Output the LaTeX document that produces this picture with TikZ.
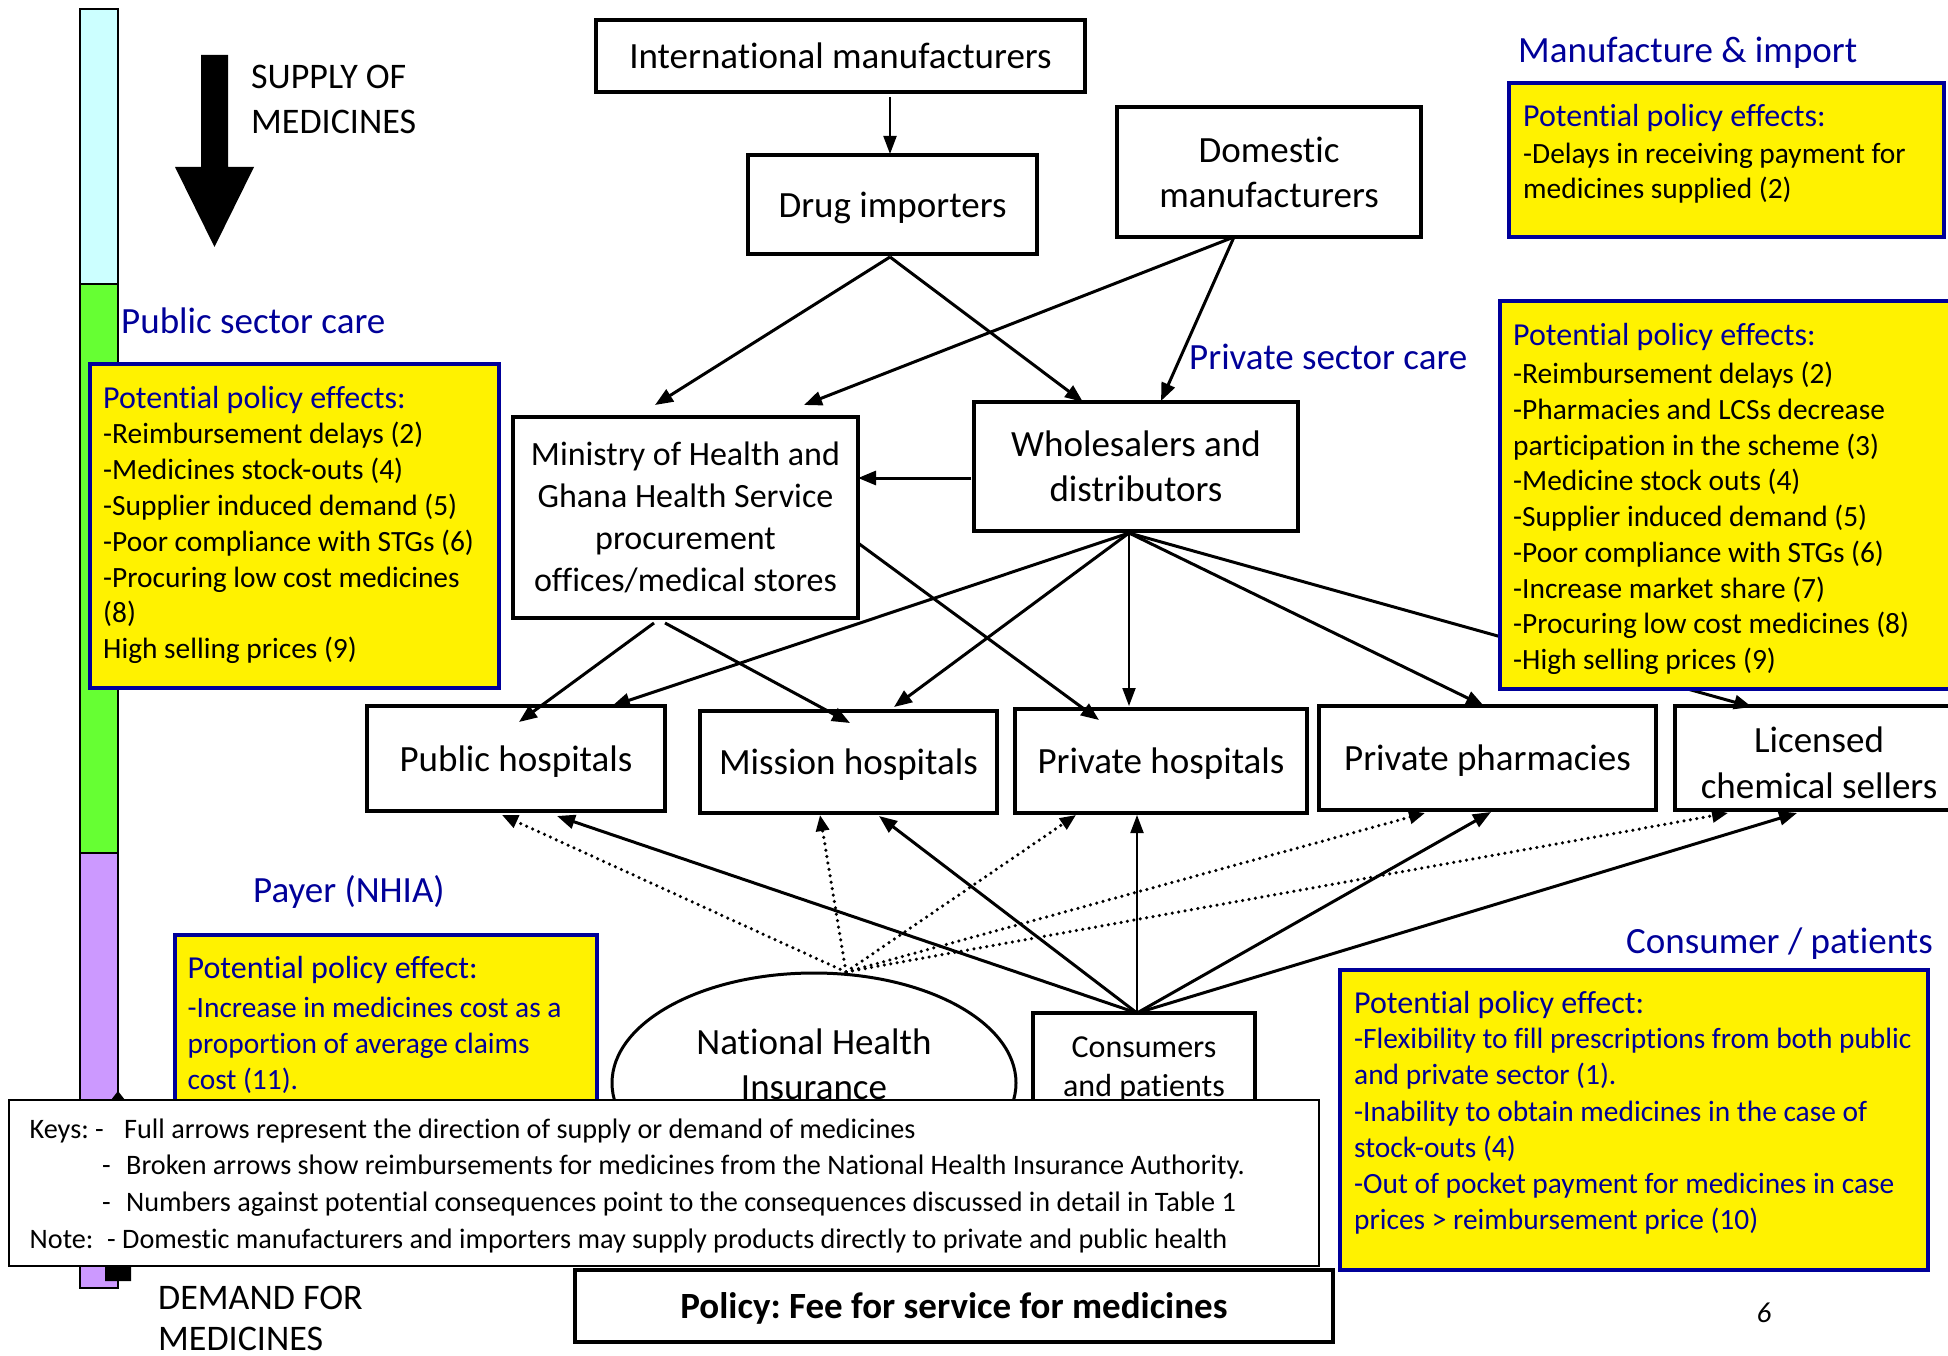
\documentclass[tikz,border=0pt]{standalone}
\usepackage{fontspec}
\setmainfont{Carlito}[Ligatures=NoCommon]
\usetikzlibrary{arrows.meta,calc,shapes.geometric}
\definecolor{navy}{RGB}{0,0,153}
\definecolor{cyanbar}{RGB}{204,255,255}
\definecolor{greenbar}{RGB}{102,255,51}
\definecolor{purplebar}{RGB}{204,153,255}
\newcommand\fsz[2]{\fontsize{#1}{#2}\selectfont}
\frenchspacing
\begin{document}
\frenchspacing
\begin{tikzpicture}[x=1pt,y=-1pt,
  box/.style={draw, line width=3.5pt, fill=white, inner sep=0pt, outer sep=0pt, align=center, font=\fsz{37}{45}},
  onebox/.style={box, text depth=0pt},
  ybox/.style={draw=navy, fill=yellow, line width=4pt, inner sep=0pt, outer sep=0pt},
  ytext/.style={anchor=base west, inner sep=0pt, font=\fsz{29.4}{35}},
  yhead/.style={anchor=base west, inner sep=0pt, text=navy, font=\fsz{32}{38}},
  head/.style={anchor=base west, inner sep=0pt, text=navy, font=\fsz{37}{44}},
  bigtext/.style={anchor=base west, inner sep=0pt, font=\fsz{36}{44}},
  keytext/.style={anchor=base west, inner sep=0pt, font=\fsz{28.2}{34}},
  arr/.style={line width=3pt, -{Triangle[length=18pt,width=14pt]}},
  thinarr/.style={line width=2pt, -{Triangle[length=18pt,width=13pt]}},
  dotarr/.style={line width=3.5pt, line cap=round, dash pattern=on 0pt off 6.5pt, -{Triangle[length=16pt,width=13pt]}},
  barseg/.style={draw=black, line width=1.5pt}
]
\useasboundingbox (0,0) rectangle (1948,1356);

% ---- left colour bar ----
\filldraw[barseg, fill=cyanbar] (80,9) rectangle (118,284);
\filldraw[barseg, fill=greenbar] (80,284) rectangle (118,853);
\filldraw[barseg, fill=purplebar] (80,853) rectangle (118,1288);

% supply arrow (down)
\fill (201,55) -- (228,55) -- (228,167) -- (254,167) -- (214.5,247) -- (175,167) -- (201,167) -- cycle;
\node[bigtext] (supply1) at (251,89) {SUPPLY OF};
\node[bigtext] (supply2) at (251,134) {MEDICINES};

% demand arrow (up), mostly hidden by the key box
\fill (105,1281) -- (131,1281) -- (131,1140) -- (156,1140) -- (118,1091) -- (80,1140) -- (105,1140) -- cycle;
\node[bigtext] (demand1) at (158,1309) {DEMAND FOR};
\node[bigtext] (demand2) at (158,1350) {MEDICINES};

% ---- headings ----
\node[head] (hpub) at (121,333) {Public sector care};
\node[head] (hman) at (1518,63) {Manufacture \& import};
\node[head] (hpriv) at (1189,369) {Private sector care};
\node[head] (hpay) at (253,902) {Payer (NHIA)};
\node[head] (hcons) at (1626,953) {Consumer / patients};

% ---- main boxes ----
\node[onebox, minimum width=489pt, minimum height=72pt] (intl) at (840.5,56) {International manufacturers};
\node[onebox, minimum width=289pt, minimum height=99pt] (drug) at (892.5,204.5) {Drug importers};
\node[box, minimum width=304pt, minimum height=130pt] (dom) at (1269,172) {Domestic\\manufacturers};
\node[box, minimum width=345pt, minimum height=201pt, font=\fsz{34}{42}] (moh) at (685.5,517.5) {Ministry of Health and\\Ghana Health Service\\procurement\\offices/medical stores};
\node[box, minimum width=324pt, minimum height=129pt] (whole) at (1136,466.5) {Wholesalers and\\distributors};
\node[onebox, minimum width=298pt, minimum height=105pt] (pubh) at (516,758.5) {Public hospitals};
\node[onebox, minimum width=297pt, minimum height=102pt] (mish) at (848.5,762) {Mission hospitals};
\node[onebox, minimum width=292pt, minimum height=104pt] (prih) at (1161,761) {Private hospitals};
\node[onebox, minimum width=337pt, minimum height=104pt] (phar) at (1487.5,758) {Private pharmacies};
\node[box, minimum width=288pt, minimum height=104pt, font=\fsz{37}{46}] (lcs) at (1819,758) {\rule{0pt}{36pt}Licensed\\chemical sellers};
\node[draw, ellipse, line width=3pt, fill=white, minimum width=404pt, minimum height=220pt, inner sep=0pt, outer sep=0pt] (nhi) at (814,1083) {};
\node[inner sep=0pt, align=center, font=\fsz{37}{45}] (nhitext) at (814,1064) {National Health\\Insurance};
\node[box, minimum width=222pt, minimum height=112pt, font=\fsz{32}{39}] (cons) at (1144,1069) {Consumers\\and patients};

% ---- connectors: supply side ----
\draw[thinarr] ($(intl.south)+(49.5,5)$) -- ($(drug.north)+(-2.5,-1)$);
\coordinate (dapex) at ($(drug.south)+(-2.5,3)$);
\coordinate (domapex) at ($(dom.south)+(-35,0)$);
\coordinate (wapex) at ($(whole.south)+(-7,2)$);
\draw[arr] (dapex) -- ($(moh.north)+(-30.5,-12)$);
\draw[arr] (dapex) -- ($(whole.north)+(-53,0)$);
\draw[arr] (domapex) -- ($(moh.north)+(118.5,-12)$);
\draw[arr] (domapex) -- ($(whole.north)+(25,-1)$);
\draw[arr] ($(whole.west)+(-3,11.5)$) -- ($(moh.east)+(0,-39.5)$);
\draw[arr] ($(moh.south)+(-31.5,5)$) -- ($(pubh.north)+(3,16)$);
\draw[arr] ($(moh.south)+(-20.5,5)$) -- ($(mish.north)+(1.5,12)$);
\draw[arr] ($(moh.east)+(0,25.5)$) -- ($(prih.north)+(-62,11)$);
\draw[arr] (wapex) -- ($(pubh.north)+(96,0)$);
\draw[arr] (wapex) -- ($(mish.north)+(45.5,-4)$);
\draw[thinarr] (wapex) -- ($(prih.north)+(-32,-3)$);
\draw[arr] (wapex) -- ($(phar.north)+(-3.5,0)$);
\draw[arr] (wapex) -- ($(lcs.north)+(-67,1)$);

% ---- connectors: demand side ----
\coordinate (capex) at ($(cons.north)+(-7,0)$);
\draw[arr] (capex) -- ($(pubh.south)+(41,5)$);
\draw[arr] (capex) -- ($(mish.south)+(30.5,3)$);
\draw[thinarr] (capex) -- ($(prih.south)+(-24,2)$);
\draw[arr] (capex) -- ($(phar.south)+(3.5,2)$);
\draw[arr] (capex) -- ($(lcs.south)+(-22,3)$);

% ---- reimbursements (dotted) ----
\coordinate (napex) at ($(nhi.north)+(32,-1)$);
\draw[dotarr] (napex) -- ($(pubh.south)+(-14,4)$);
\draw[dotarr] (napex) -- ($(mish.south)+(-28.5,2)$);
\draw[dotarr] (napex) -- ($(prih.south)+(-85,2)$);
\draw[dotarr] (napex) -- ($(phar.south)+(-62.5,3)$);
\draw[dotarr] (napex) -- ($(lcs.south)+(-91,3)$);

% ---- yellow policy-effect boxes ----
\node[ybox, minimum width=409pt, minimum height=324pt] (ybl) at (294.5,526) {};
\node[yhead] (ybl0) at (103,408) {Potential policy effects:};
\foreach \t [count=\i] in {{-Reimbursement delays (2)},{-Medicines stock-outs (4)},{-Supplier induced demand (5)},{-Poor compliance with STGs (6)},{-Procuring low cost medicines},{(8)},{High selling prices (9)}}
  \node[ytext] (ybl\i) at (103,443.4+\i*35.9-35.9) {\t};

\node[ybox, minimum width=435pt, minimum height=154pt] (ytr) at (1726.5,160) {};
\node[yhead] (ytr0) at (1523,127) {Potential policy effects:};
\foreach \t [count=\i] in {{-Delays in receiving payment for},{medicines supplied (2)}}
  \node[ytext] (ytr\i) at (1523,163.5+\i*35.5-35.5) {\t};

\node[ybox, minimum width=480pt, minimum height=388pt] (yr) at (1740,495) {};
\node[yhead] (yr0) at (1513,345) {Potential policy effects:};
\foreach \t [count=\i] in {{-Reimbursement delays (2)},{-Pharmacies and LCSs decrease},{participation in the scheme (3)},{-Medicine stock outs (4)},{-Supplier induced demand (5)},{-Poor compliance with STGs (6)},{-Increase market share (7)},{-Procuring low cost medicines (8)},{-High selling prices (9)}}
  \node[ytext] (yr\i) at (1513,383.5+\i*35.75-35.75) {\t};

\node[ybox, minimum width=422pt, minimum height=200pt] (ypay) at (386,1035) {};
\node[yhead] (ypay0) at (187.5,978) {Potential policy effect:};
\foreach \t [count=\i] in {{-Increase in medicines cost as a},{proportion of average claims},{cost (11).}}
  \node[ytext, text=navy] (ypay\i) at (187.5,1017+\i*36.3-36.3) {\t};

\node[ybox, minimum width=588pt, minimum height=300pt] (ycons) at (1634,1120) {};
\node[yhead] (ycons0) at (1354,1013) {Potential policy effect:};
\foreach \t [count=\i] in {{-Flexibility to fill prescriptions from both public},{and private sector (1).},{-Inability to obtain medicines in the case of},{stock-outs (4)},{-Out of pocket payment for medicines in case},{prices > reimbursement price (10)}}
  \node[ytext, text=navy] (ycons\i) at (1354,1048.7+\i*36.2-36.2) {\t};

% ---- keys box ----
\node[draw, fill=white, line width=2pt, minimum width=1310pt, minimum height=166pt, inner sep=0pt, outer sep=0pt] (keys) at (664,1183) {};
\node[keytext] (key1) at (29.5,1138) {\makebox[94.5pt][l]{Keys: -}Full arrows represent the direction of supply or demand of medicines};
\node[keytext] (key2) at (29.5,1174.7) {\hspace*{72.5pt}\makebox[24pt][l]{-}Broken arrows show reimbursements for medicines from the National Health Insurance Authority.};
\node[keytext] (key3) at (29.5,1211.4) {\hspace*{72.5pt}\makebox[24pt][l]{-}Numbers against potential consequences point to the consequences discussed in detail in Table 1};
\node[keytext] (key4) at (29.5,1248) {\makebox[77.5pt][l]{Note:}- Domestic manufacturers and importers may supply products directly to private and public health};

% ---- policy box and page number ----
\node[onebox, line width=4pt, minimum width=758pt, minimum height=72pt, font=\fsz{37}{45}\bfseries] (policy) at (954,1306) {Policy: Fee for service for medicines};
\node[inner sep=0pt, font=\fsz{29}{35}\itshape] (pnum) at (1764,1313) {6};
\end{tikzpicture}
\end{document}
